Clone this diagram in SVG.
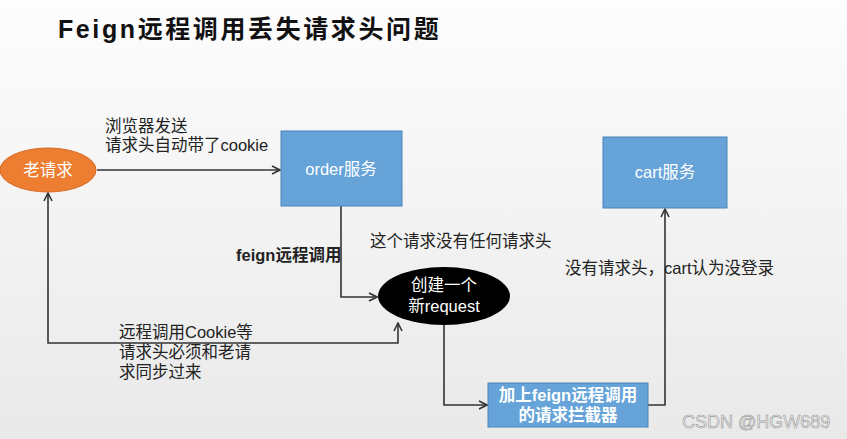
<svg xmlns="http://www.w3.org/2000/svg" width="847" height="439" viewBox="0 0 847 439">
<defs>
<linearGradient id="bg" x1="0" y1="0" x2="0" y2="1">
<stop offset="0" stop-color="#fdfdfd"/>
<stop offset="1" stop-color="#e9e9e9"/>
</linearGradient>
<marker id="arr" viewBox="0 0 10 10" refX="9" refY="5" markerWidth="10" markerHeight="10" markerUnits="userSpaceOnUse" orient="auto-start-reverse">
<path d="M1,1 L9,5 L1,9" fill="none" stroke="#333" stroke-width="1.6"/>
</marker>
<style>
text{font-family:"Liberation Sans","Noto Sans CJK SC",sans-serif;}
.lbl{font-size:16.5px;fill:#222;}
.wt{font-size:16.5px;fill:#fff;text-anchor:middle;}
.box{fill:#65a3d8;stroke:#4a84b8;stroke-width:1;}
.ln{fill:none;stroke:#333;stroke-width:1.6;}
</style>
</defs>
<rect width="847" height="439" fill="url(#bg)"/>
<text x="58" y="38" font-size="25" font-weight="bold" fill="#111" letter-spacing="2.6">Feign远程调用丢失请求头问题</text>

<g id="connectors">
<line class="ln" x1="97" y1="170" x2="280" y2="170" marker-end="url(#arr)"/>
<polyline class="ln" points="341,206 341,297 377,297" marker-end="url(#arr)"/>
<polyline class="ln" points="48,193 48,343 398,343 398,323" marker-start="url(#arr)" marker-end="url(#arr)"/>
<polyline class="ln" points="444,325 444,405 487,405" marker-end="url(#arr)"/>
<polyline class="ln" points="648,405 665,405 665,209" marker-end="url(#arr)"/>
</g>

<g id="old-request">
<ellipse cx="48" cy="170" rx="48" ry="22" fill="#ed7d31" stroke="#d66a22" stroke-width="1"/>
<text class="wt" x="48" y="176">老请求</text>
</g>
<g id="order">
<rect class="box" x="281" y="131" width="121" height="75"/>
<text class="wt" x="341" y="175">order服务</text>
</g>
<g id="cart">
<rect class="box" x="603" y="137" width="124" height="71"/>
<text class="wt" x="665" y="178">cart服务</text>
</g>
<g id="new-request">
<ellipse cx="444" cy="296" rx="66" ry="29" fill="#000"/>
<text class="wt" x="444" y="291">创建一个</text>
<text class="wt" x="444" y="312">新request</text>
</g>
<g id="interceptor">
<rect class="box" x="488" y="383" width="160" height="44"/>
<text class="wt" x="568" y="401" font-weight="bold">加上feign远程调用</text>
<text class="wt" x="568" y="421" font-weight="bold">的请求拦截器</text>
</g>

<g id="labels">
<text class="lbl" x="105" y="132">浏览器发送</text>
<text class="lbl" x="105" y="151">请求头自动带了cookie</text>
<text class="lbl" x="236" y="261" font-weight="bold" fill="#111">feign远程调用</text>
<text class="lbl" x="370" y="247">这个请求没有任何请求头</text>
<text class="lbl" x="565" y="274">没有请求头，cart认为没登录</text>
<text class="lbl" x="119" y="338">远程调用Cookie等</text>
<text class="lbl" x="119" y="358">请求头必须和老请</text>
<text class="lbl" x="119" y="378">求同步过来</text>
<text x="682" y="428" font-size="18" fill="#eee" stroke="#999" stroke-width="0.6">CSDN @HGW689</text>
</g>
</svg>
